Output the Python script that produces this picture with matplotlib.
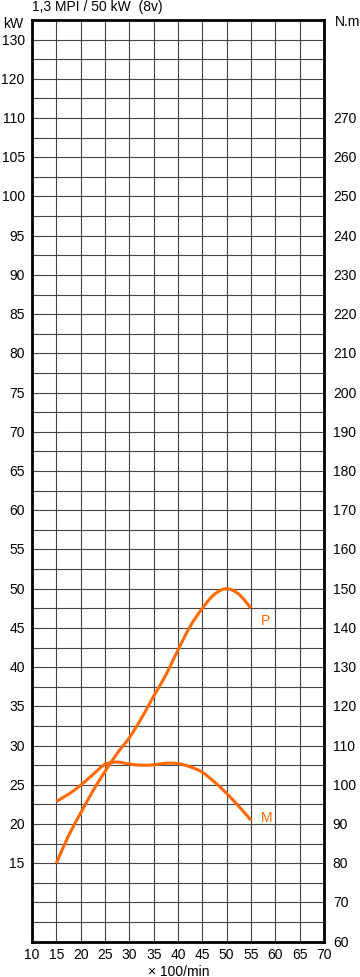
import matplotlib
matplotlib.use("Agg")
import matplotlib.pyplot as plt
from matplotlib.path import Path
from matplotlib.patches import PathPatch
import numpy as np

plt.rcParams['font.family'] = ['Liberation Sans', 'DejaVu Sans']

# Data
rpm = [15, 17.5, 20, 22.5, 25, 27.5, 30, 32.5, 35, 37.5, 40, 42.5, 45, 47.5, 50, 52.5, 55]
power_kw = [15, 18.5, 21.4, 24.2, 26.7, 29.0, 31.0, 33.5, 36.3, 39.0, 42.2, 45.2, 47.5, 49.3, 50, 49.3, 47.5]
torque_nm = [95.8, 97.6, 99.9, 102.6, 105.2, 105.8, 105.3, 105.0, 105.1, 105.5, 105.4, 104.6, 103.2, 100.7, 97.8, 94.5, 91]

x_ticks = list(range(10, 75, 5))
right_ticks = list(range(60, 280, 10))
left_labels = [15, 20, 25, 30, 35, 40, 45, 50, 55, 60, 65, 70, 75, 80, 85, 90, 95, 100, 105, 110, 120, 130]

title = "1,3 MPI / 50 kW  (8v)"
orange = "#FF6A00"


def kw_to_axis(kw):
    # left scale: 5 kW per 10 N.m up to 110 kW, then 10 kW per 10 N.m
    kw = np.asarray(kw, dtype=float)
    return np.where(kw <= 110, 2 * (kw + 25), 270 + (kw - 110))


def smooth_path(xs, ys):
    # Catmull-Rom curve through the points, expressed as cubic Bezier segments
    p = np.column_stack([xs, ys]).astype(float)
    n = len(p)
    verts = [p[0]]
    codes = [Path.MOVETO]
    for i in range(n - 1):
        p0 = p[i - 1] if i > 0 else p[i]
        p1, p2 = p[i], p[i + 1]
        p3 = p[i + 2] if i + 2 < n else p[i + 1]
        c1 = p1 + (p2 - p0) / 6.0
        c2 = p2 - (p3 - p1) / 6.0
        verts += [c1, c2, p2]
        codes += [Path.CURVE4] * 3
    return Path(verts, codes)


W, H = 360, 978
fig = plt.figure(figsize=(W / 100, H / 100), dpi=100)
ax = fig.add_axes([32 / W, 1 - 942.7 / H, (324 - 32) / W, (942.7 - 21) / H])

ax.set_xlim(10, 70)
ax.set_ylim(60, 295)

ax.set_xticks(x_ticks)
ax.set_yticks(np.arange(60, 296, 5))
ax.grid(True, color="#444444", linewidth=0.8)
ax.set_yticklabels([])
ax.tick_params(axis='both', length=0)
ax.set_xticklabels([str(v) for v in x_ticks], fontsize=10)
ax.tick_params(axis='x', pad=4)

for s in ax.spines.values():
    s.set_linewidth(2.0)
    s.set_color("black")

# left labels
for kw in left_labels:
    ax.text(-0.025, kw_to_axis(kw), str(kw), transform=ax.get_yaxis_transform(),
            ha='right', va='center', fontsize=10)
# right labels
for nm in right_ticks:
    ax.text(1.03, nm, str(nm), transform=ax.get_yaxis_transform(),
            ha='left', va='center', fontsize=10)

for ys in (kw_to_axis(power_kw), torque_nm):
    patch = PathPatch(smooth_path(rpm, ys), facecolor='none', edgecolor=orange,
                      linewidth=2.2, capstyle='butt', joinstyle='round', zorder=5)
    ax.add_patch(patch)

ax.text(57, float(kw_to_axis(power_kw[-1])) - 3, "P", color=orange, fontsize=10,
        ha='left', va='center')
ax.text(57, torque_nm[-1] + 0.8, "M", color=orange, fontsize=10,
        ha='left', va='center')

fig.text(32 / W, 1 - 7 / H, title, ha='left', va='center', fontsize=10)
fig.text(3 / W, 1 - 24 / H, "kW", ha='left', va='center', fontsize=10)
fig.text(335 / W, 1 - 22 / H, "N.m", ha='left', va='center', fontsize=10)
fig.text(179 / W, 1 - 972 / H, "× 100/min", ha='center', va='center', fontsize=10)

fig.savefig("out.png", dpi=100)
